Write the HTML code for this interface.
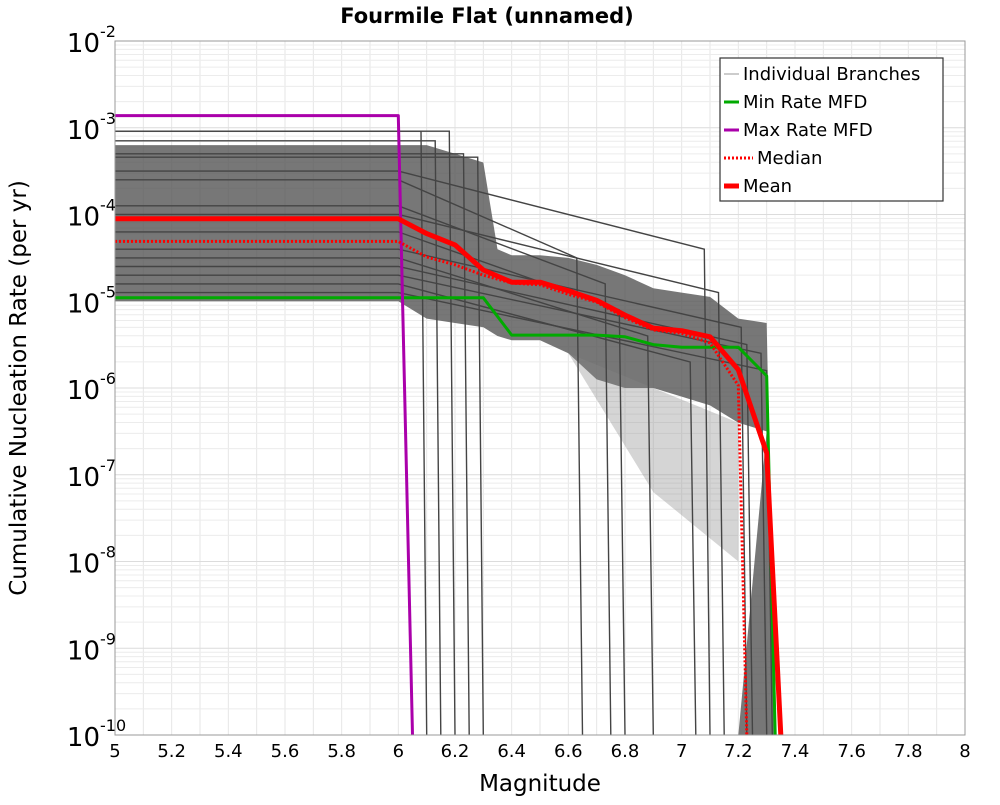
<!DOCTYPE html>
<html><head><meta charset="utf-8"><style>
body{margin:0;background:#fff;font-family:"Liberation Sans","DejaVu Sans",sans-serif}
svg text{font-family:"DejaVu Sans","Liberation Sans",sans-serif}
</style></head><body>
<svg id="chart" width="1000" height="800" xmlns="http://www.w3.org/2000/svg">
<text x="487" y="23" text-anchor="middle" font-size="21" font-weight="bold">Fourmile Flat (unnamed)</text>
<text transform="translate(26,388) rotate(-90)" text-anchor="middle" font-size="23">Cumulative Nucleation Rate (per yr)</text>
<text x="540" y="791" text-anchor="middle" font-size="23">Magnitude</text>
<g id="grid"></g><g id="band"></g><g id="branches"></g><g id="series"></g><g id="axes"></g>
<g>
<rect x="720" y="58" width="223" height="143" fill="#fff" stroke="#333" stroke-width="1.2"/>
<line x1="724" y1="74" x2="739" y2="74" stroke="#999" stroke-width="1"/>
<text x="743" y="80" font-size="18">Individual Branches</text>
<line x1="724" y1="102" x2="739" y2="102" stroke="#00aa00" stroke-width="3"/>
<text x="743" y="108" font-size="18">Min Rate MFD</text>
<line x1="724" y1="130" x2="739" y2="130" stroke="#aa00aa" stroke-width="3"/>
<text x="743" y="136" font-size="18">Max Rate MFD</text>
<line x1="724" y1="158" x2="753" y2="158" stroke="#ff0000" stroke-width="3" stroke-dasharray="2,2"/>
<text x="757" y="164" font-size="18">Median</text>
<line x1="724" y1="186" x2="739" y2="186" stroke="#ff0000" stroke-width="5"/>
<text x="743" y="192" font-size="18">Mean</text>
</g>
</svg>
<script>
const xTicks=[5,5.2,5.4,5.6,5.8,6,6.2,6.4,6.6,6.8,7,7.2,7.4,7.6,7.8,8];
const yDecades=[-2,-3,-4,-5,-6,-7,-8,-9,-10];
const meanMag=[5,6,6.1,6.2,6.3,6.4,6.5,6.6,6.7,6.8,6.9,7.0,7.1,7.2,7.3,7.35];
const meanLog=[-4.05,-4.05,-4.22,-4.35,-4.64,-4.78,-4.78,-4.88,-4.99,-5.16,-5.31,-5.34,-5.41,-5.79,-6.75,-10];
const medianMag=[5,6,6.1,6.2,6.3,6.4,6.5,6.6,6.7,6.8,6.9,7.0,7.1,7.2,7.23];
const medianLog=[-4.31,-4.31,-4.49,-4.58,-4.70,-4.79,-4.81,-4.92,-5.01,-5.19,-5.33,-5.37,-5.48,-5.97,-10];
const minMag=[5,6.3,6.4,6.7,6.8,6.9,7.0,7.1,7.2,7.3,7.33];
const minLog=[-4.96,-4.96,-5.39,-5.39,-5.41,-5.50,-5.53,-5.53,-5.53,-5.86,-10];
const maxMag=[5,6.0,6.05];
const maxLog=[-2.86,-2.86,-10];
const bandMag=[5,6,6.1,6.2,6.3,6.35,6.4,6.5,6.6,6.7,6.8,6.9,7.0,7.1,7.2,7.3];
const bandUpper=[-3.2,-3.2,-3.2,-3.3,-3.4,-4.4,-4.47,-4.47,-4.5,-4.58,-4.7,-4.85,-4.9,-4.95,-5.2,-5.25];
const bandLower=[-5.0,-5.0,-5.2,-5.25,-5.3,-5.4,-5.45,-5.45,-5.6,-5.9,-6.0,-6.0,-6.1,-6.2,-6.4,-6.5];
const branchLevel=[-3.04,-3.04,-3.34,-3.15,-3.3,-3.6,-3.9,-4.2,-4.5,-4.8,-3.5,-4.0,-4.4,-4.6,-4.7,-4.9];
const branchDrop=[6.1,6.2,6.3,6.15,6.25,6.65,6.75,6.8,6.9,7.05,7.1,7.15,7.23,7.25,7.3,7.32];
const X0=115,X1=965,Y0=41,Y1=735;
const x=m=>X0+(m-5)/(8-5)*(X1-X0);
const y=l=>Y0+(-2-l)/8*(Y1-Y0);
const NS='http://www.w3.org/2000/svg';
function mk(tag,parent,attrs){const e=document.createElementNS(NS,tag);for(const k in attrs)e.setAttribute(k,attrs[k]);parent.appendChild(e);return e;}
const grid=document.getElementById('grid');
for(let i=0;i<=30;i++){const m=5+i*0.1;const l=mk('line',grid,{x1:x(m),x2:x(m),y1:Y0,y2:Y1,stroke:'#e6e6e6','stroke-width':1});

}
for(let d=-10;d<-2;d++){for(let k=1;k<10;k++){const v=d+Math.log10(k);const l=mk('line',grid,{x1:X0,x2:X1,y1:y(v),y2:y(v),stroke:k==1?'#dcdcdc':'#ececec','stroke-width':1});

}}
function path(mags,logs){return mags.map((m,i)=>(i?'L':'M')+x(m).toFixed(1)+','+y(logs[i]).toFixed(1)).join(' ');}
const band=document.getElementById('band');
let d='M'+bandMag.map((m,i)=>x(m)+','+y(bandUpper[i])).join(' L');
d+=' L'+x(7.33)+','+y(-10)+' L'+x(7.2)+','+y(-10);
for(let i=bandMag.length-1;i>=0;i--)d+=' L'+x(bandMag[i])+','+y(bandLower[i]);
d+='Z';
const bp=mk('path',band,{d:d,fill:'#555','fill-opacity':0.8});


const fall=mk('path',band,{d:'M'+x(6.6)+','+y(-5.6)+' L'+x(7.2)+','+y(-6.4)+' L'+x(7.2)+','+y(-8)+' L'+x(6.9)+','+y(-7.2)+'Z',fill:'#888','fill-opacity':0.35});


const br=document.getElementById('branches');
branchLevel.forEach((lv,i)=>{const dm=branchDrop[i];const ms=[5,Math.min(6,dm-0.05),dm-0.02,dm];const ls=[lv,lv,Math.max(lv,-5.2)-(dm>6.3?0.9:0),-10];
const p=mk('path',br,{d:path(ms,ls),fill:'none',stroke:'#444','stroke-width':1.4});

});
const s=document.getElementById('series');
const ser=[[minMag,minLog,'#00aa00',3,'','min-rate-line'],[maxMag,maxLog,'#aa00aa',3,'','max-rate-line'],[medianMag,medianLog,'#ff0000',3,'2,2','median-line'],[meanMag,meanLog,'#ff0000',5,'','mean-line']];
ser.forEach(a=>{const p=mk('path',s,{d:path(a[0],a[1]),fill:'none',stroke:a[2],'stroke-width':a[3],'stroke-dasharray':a[4]||'none','stroke-linejoin':'round'});

});
const ax=document.getElementById('axes');
const fr=mk('rect',ax,{x:X0,y:Y0,width:X1-X0,height:Y1-Y0,fill:'none',stroke:'#999','stroke-width':1});


xTicks.forEach(t=>{const e=mk('text',ax,{x:x(t),y:757,'text-anchor':'middle','font-size':18});e.textContent=String(t);

});
yDecades.forEach(dd=>{const e=mk('text',ax,{x:100,y:y(dd)+11,'text-anchor':'end','font-size':26});e.textContent='10';


const sp=mk('text',ax,{x:100,y:y(dd)-4,'font-size':16});sp.textContent=String(dd);

});
</script>
</body></html>
